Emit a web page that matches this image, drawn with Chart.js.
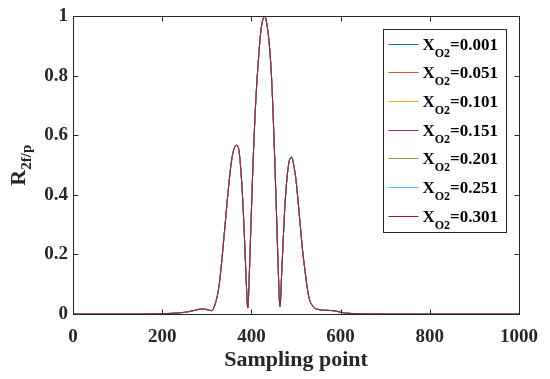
<!DOCTYPE html>
<html lang="en">
<head>
<meta charset="UTF-8">
<title>R2f/p vs sampling point</title>
<script src="https://cdn.jsdelivr.net/npm/chart.js"></script>
<style>
  html, body { margin: 0; padding: 0; background: #fff; }
  #wrap { width: 550px; height: 379px; }
</style>
</head>
<body>
<div id="wrap"><canvas id="chart"></canvas></div>
<script>
// values (all seven curves lie on top of each other)
const samplePoints = [0, 150, 200, 240, 260, 275, 289, 300, 311, 318, 327, 333, 338, 344, 349, 355, 361, 367,
  372, 377, 382, 386, 389, 392, 395, 399, 404, 410, 416, 422, 430, 437, 441, 445, 450, 456, 460, 464,
  468, 472, 475, 480, 485, 490, 495, 500, 504, 510, 515, 519, 525, 530, 534, 540, 548, 560, 575, 589,
  600, 611, 640, 700, 1000];
const r2fp = [0, 0, 0.001, 0.004, 0.008, 0.013, 0.017, 0.015, 0.011, 0.03, 0.09, 0.17, 0.25, 0.35, 0.43, 0.51, 0.555, 0.567,
  0.55, 0.47, 0.34, 0.2, 0.09, 0.02, 0.12, 0.3, 0.52, 0.72, 0.86, 0.96, 1.0, 0.95, 0.89, 0.8, 0.62, 0.35, 0.16, 0.025,
  0.14, 0.27, 0.36, 0.46, 0.515, 0.527, 0.5, 0.45, 0.39, 0.29, 0.21, 0.16, 0.09, 0.05, 0.035, 0.022, 0.016, 0.013, 0.012, 0.01,
  0.006, 0.003, 0.001, 0, 0];
const fractions = ['0.001', '0.051', '0.101', '0.151', '0.201', '0.251', '0.301'];
const lineColors = ['#0072BD', '#D95319', '#EDB120', '#7E2F8E', '#77AC30', '#4DBEEE', '#A2142F'];
const xTicks = [0, 200, 400, 600, 800, 1000];
const yTicks = [0, 0.2, 0.4, 0.6, 0.8, 1];

const axisColor = '#262626';
const serif = '"Liberation Serif", "Times New Roman", serif';

const datasets = fractions.map((f, i) => ({
  label: 'XO2=' + f,
  data: samplePoints.map((s, k) => ({ x: s, y: r2fp[k] })),
  borderColor: lineColors[i],
  borderWidth: 1,
  pointRadius: 0,
  cubicInterpolationMode: 'monotone',
  order: fractions.length - i   // last series ends up on top, like the figure
}));

// text with a subscript part, e.g. X + O2 + =0.001
function subText(ctx, x, y, main, sub, rest, bigPx, smallPx, drop) {
  ctx.font = 'bold ' + bigPx + 'px ' + serif;
  ctx.fillText(main, x, y);
  x += ctx.measureText(main).width;
  ctx.font = 'bold ' + smallPx + 'px ' + serif;
  ctx.fillText(sub, x, y + drop);
  x += ctx.measureText(sub).width;
  if (rest) {
    ctx.font = 'bold ' + bigPx + 'px ' + serif;
    ctx.fillText(rest, x, y);
  }
}

const frame = {
  id: 'frame',
  afterDraw(chart) {
    const { ctx, chartArea: a, scales: { x, y } } = chart;
    const L = Math.round(a.left) + 0.5, R = Math.round(a.right) + 0.5;
    const T = Math.round(a.top) + 0.5, B = Math.round(a.bottom) + 0.5;
    ctx.save();
    ctx.strokeStyle = axisColor;
    ctx.lineWidth = 1;
    ctx.strokeRect(L, T, R - L, B - T);
    ctx.beginPath();
    xTicks.forEach(v => {
      const px = Math.round(x.getPixelForValue(v)) + 0.5;
      ctx.moveTo(px, B); ctx.lineTo(px, B - 5);
      ctx.moveTo(px, T); ctx.lineTo(px, T + 5);
    });
    yTicks.forEach(v => {
      const py = Math.round(y.getPixelForValue(v)) + 0.5;
      ctx.moveTo(L, py); ctx.lineTo(L + 5, py);
      ctx.moveTo(R, py); ctx.lineTo(R - 5, py);
    });
    ctx.stroke();

    // y axis title R_2f/p
    ctx.fillStyle = axisColor;
    ctx.textBaseline = 'alphabetic';
    ctx.font = 'bold 22px ' + serif;
    const wR = ctx.measureText('R').width;
    ctx.font = 'bold 15px ' + serif;
    const wS = ctx.measureText('2f/p').width;
    ctx.save();
    ctx.translate(25, (a.top + a.bottom) / 2 + (wR + wS) / 2);
    ctx.rotate(-Math.PI / 2);
    subText(ctx, 0, 0, 'R', '2f/p', '', 22, 15, 6);
    ctx.restore();

    // legend
    const boxL = Math.round(a.right) - 136 + 0.5, boxT = Math.round(a.top) + 13 + 0.5;
    const boxW = 123, boxH = 203;
    ctx.fillStyle = '#fff';
    ctx.fillRect(boxL, boxT, boxW, boxH);
    ctx.strokeStyle = axisColor;
    ctx.strokeRect(boxL, boxT, boxW, boxH);
    fractions.forEach((f, i) => {
      const cy = Math.round(boxT + 14 + i * 28.7) + 0.5;
      ctx.strokeStyle = lineColors[i];
      ctx.beginPath();
      ctx.moveTo(boxL + 5, cy); ctx.lineTo(boxL + 35, cy);
      ctx.stroke();
      ctx.fillStyle = '#000';
      subText(ctx, boxL + 39, cy + 5.5, 'X', 'O2', '=' + f, 17, 12, 7);
    });
    ctx.restore();
  }
};

const plainLabel = v => String(v);

new Chart(document.getElementById('chart'), {
  type: 'line',
  data: { datasets },
  plugins: [frame],
  options: {
    responsive: true,
    maintainAspectRatio: false,
    animation: false,
    layout: { padding: { left: 0, top: 16, right: 27, bottom: 0 } },
    plugins: { legend: { display: false }, tooltip: { enabled: false } },
    scales: {
      x: {
        type: 'linear', min: 0, max: 1000,
        afterBuildTicks: s => { s.ticks = xTicks.map(v => ({ value: v })); },
        afterFit: s => { s.height = 65; },
        grid: { display: false, drawTicks: false },
        border: { display: false },
        ticks: { color: axisColor, padding: 12, callback: plainLabel, font: { family: serif, size: 19, weight: 'bold' } },
        title: {
          display: true, text: 'Sampling point', color: axisColor,
          font: { family: serif, size: 22, weight: 'bold' }, padding: { top: 0, bottom: 5 }
        }
      },
      y: {
        type: 'linear', min: 0, max: 1,
        afterBuildTicks: s => { s.ticks = yTicks.map(v => ({ value: v })); },
        afterFit: s => { s.width = 73; },
        grid: { display: false, drawTicks: false },
        border: { display: false },
        ticks: { color: axisColor, padding: 5, callback: plainLabel, font: { family: serif, size: 19, weight: 'bold' } }
      }
    }
  }
});
</script>
</body>
</html>
